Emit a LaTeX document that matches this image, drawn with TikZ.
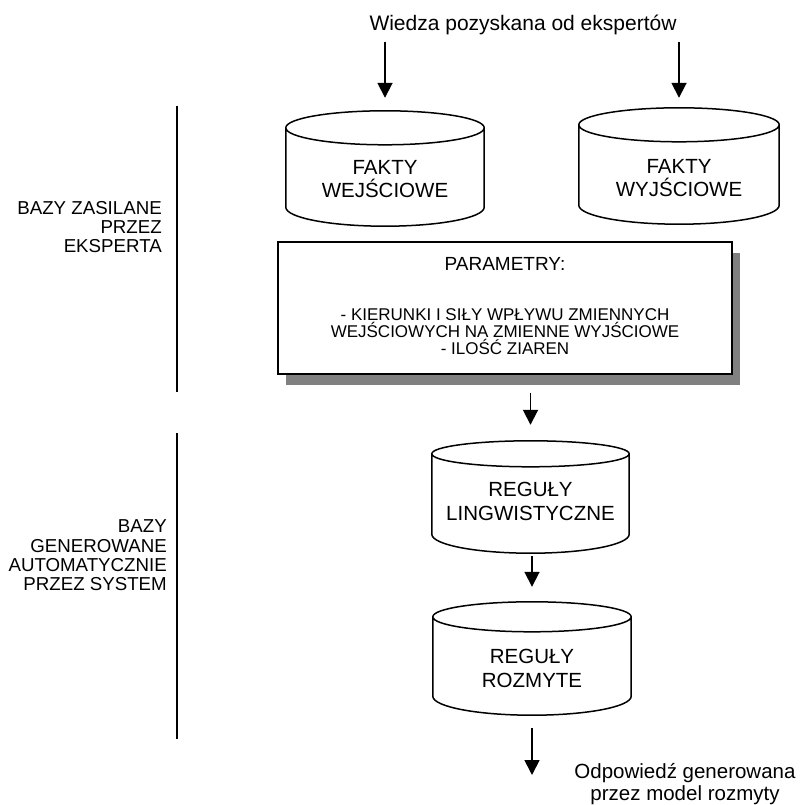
\documentclass[tikz,border=0pt]{standalone}
\usepackage{fontspec}
\setmainfont{Liberation Sans}
\usetikzlibrary{arrows.meta,calc,shadows}

\newcommand\setfs[2]{\fontsize{#1}{#2}\selectfont}
% cylinder outline drawn round a rectangular node: #1 node, #2 top half-height, #3 bottom arc depth
\newcommand\drawcyl[3]{%
  \draw[cylline] let \p1=(#1.north west), \p2=(#1.south east), \n1={(\x2-\x1)/2} in
    (\x1,\y1-#2pt) -- (\x1,\y2+#3pt)
    arc[start angle=180, end angle=360, x radius=\n1, y radius=#3pt]
    -- (\x2,\y1-#2pt)
    arc[start angle=0, end angle=180, x radius=\n1, y radius=#2pt]
    arc[start angle=180, end angle=360, x radius=\n1, y radius=#2pt];}

\tikzset{
  cylline/.style={line width=1.5pt},
  cylbox/.style={rectangle, inner sep=0pt, minimum width=#1},
  cyltext/.style={align=center, inner sep=0pt, font=\setfs{20.5}{23.5}},
  sidetext/.style={align=right, inner sep=0pt, anchor=east, font=\setfs{18.7}{19.4}},
  bracket/.style={line width=2pt},
  arr/.style={line width=1.8pt, -{Triangle[length=15pt,width=15pt]}},
  pbox/.style={rectangle, draw, line width=1.8pt, fill=white, inner sep=0pt,
    drop shadow={shadow xshift=8pt, shadow yshift=-11pt, fill=black!50, opacity=1}},
}

\begin{document}
\begin{tikzpicture}[x=1pt, y=-1pt]
\useasboundingbox (0,0) rectangle (802,805);

% source of the expert knowledge
\node[inner sep=0pt, anchor=base, font=\setfs{21}{24}] (src) at (523,31) {Wiedza pozyskana od ekspertów};

% fact bases
\node[cylbox=198pt, minimum height=115pt] (A) at (385,168.5) {};
\drawcyl{A}{17}{19}
\node[cyltext] (At) at (385,179) {FAKTY\\WEJŚCIOWE};

\node[cylbox=200pt, minimum height=116pt] (B) at (679,166) {};
\drawcyl{B}{17}{19}
\node[cyltext] (Bt) at (679,178) {FAKTY\\WYJŚCIOWE};

% parameter box
\node[pbox, minimum width=454pt, minimum height=132pt] (P) at (505,308) {};
\node[align=center, inner sep=0pt, font=\setfs{17}{17}] (Pt) at (505,306)
  {{\setfs{19}{19}PARAMETRY:}\\[33pt]
   - KIERUNKI I SIŁY WPŁYWU ZMIENNYCH\\
   WEJŚCIOWYCH NA ZMIENNE WYJŚCIOWE\\
   - ILOŚĆ ZIAREN};

% rule bases
\node[cylbox=197pt, minimum height=112pt] (C) at (530.5,497) {};
\drawcyl{C}{13}{19}
\node[cyltext] (Ct) at (530.5,501.5) {REGUŁY\\LINGWISTYCZNE};

\node[cylbox=198pt, minimum height=113pt] (D) at (532,658.5) {};
\drawcyl{D}{15}{19}
\node[cyltext] (Dt) at (532,668.5) {REGUŁY\\ROZMYTE};

% output
\node[align=center, inner sep=0pt, font=\setfs{20.5}{22.5}] (out) at (685,784)
  {Odpowiedź generowana\\przez model rozmyty};
\coordinate (outend) at (532,775);

% flow arrows
\draw[arr, shorten <=6pt, shorten >=13pt] (src.south -| A.north) -- (A.north);
\draw[arr, shorten <=6pt, shorten >=10pt] (src.south -| B.north) -- (B.north);
\draw[arr, shorten <=18pt, shorten >=16pt] (P.south -| C.north) -- (C.north);
\draw[arr, shorten <=3pt, shorten >=15pt] (C.south -| D.north) -- (D.north);
\draw[arr, shorten <=13pt] (D.south) -- (outend);

% grouping brackets on the left
\coordinate (g1a) at (177,106);
\coordinate (g1b) at (177,392);
\coordinate (g2a) at (177,433);
\coordinate (g2b) at (177,739);
\draw[bracket] (g1a) -- (g1b);
\draw[bracket] (g2a) -- (g2b);
\node[sidetext] (g1t) at (162,227) {BAZY ZASILANE\\PRZEZ\\EKSPERTA};
\node[sidetext] (g2t) at (167,555.5) {BAZY\\GENEROWANE\\AUTOMATYCZNIE\\PRZEZ SYSTEM};
\end{tikzpicture}
\end{document}
